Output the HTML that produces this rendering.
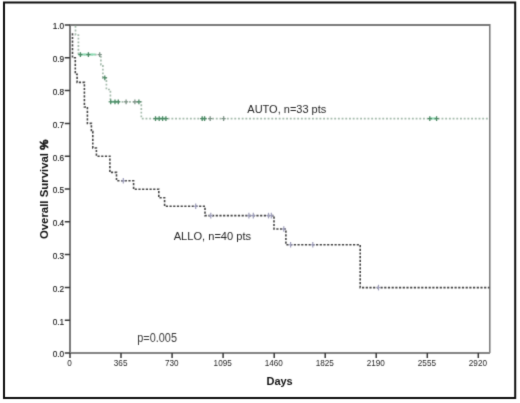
<!DOCTYPE html>
<html><head><meta charset="utf-8"><style>
html,body{margin:0;padding:0;background:#fff;width:520px;height:403px;overflow:hidden}
svg{display:block}
</style></head><body>
<svg width="520" height="403" viewBox="0 0 520 403">
<defs><filter id="soft" x="0" y="0" width="520" height="403" filterUnits="userSpaceOnUse" color-interpolation-filters="sRGB"><feConvolveMatrix order="3" kernelMatrix="0.0144 0.0912 0.0144 0.0912 0.5776 0.0912 0.0144 0.0912 0.0144" divisor="1" edgeMode="duplicate" preserveAlpha="true"/></filter></defs><g filter="url(#soft)">
<rect x="0" y="0" width="520" height="403" fill="#fff"/>
<rect x="4" y="2.5" width="511.2" height="395.5" fill="none" stroke="#0c0c0c" stroke-width="2"/>
<path d="M70,25 H489.6" fill="none" stroke="#7a7a7a" stroke-width="1.8"/>
<path d="M489.8,24.1 V353" fill="none" stroke="#6e6e6e" stroke-width="1.4"/>
<path d="M70,24.5 V353" fill="none" stroke="#747474" stroke-width="1.9"/>
<path d="M69,353 H490" fill="none" stroke="#838383" stroke-width="1.9"/>
<path d="M64.8,353.0 H70 M64.8,320.2 H70 M64.8,287.4 H70 M64.8,254.6 H70 M64.8,221.8 H70 M64.8,189.0 H70 M64.8,156.2 H70 M64.8,123.4 H70 M64.8,90.6 H70 M64.8,57.8 H70 M64.8,25.0 H70 M70.0,353 V358 M121.0,353 V358 M172.1,353 V358 M223.1,353 V358 M274.2,353 V358 M325.2,353 V358 M376.2,353 V358 M427.3,353 V358 M478.3,353 V358" stroke="#383838" stroke-width="1.5" fill="none"/>
<g font-family="Liberation Sans, Arial, sans-serif" font-size="8.9" fill="#181818" stroke="#181818" stroke-width="0.15"><text transform="translate(64.2,357.3) scale(0.93,1)" text-anchor="end">0.0</text><text transform="translate(64.2,324.5) scale(0.93,1)" text-anchor="end">0.1</text><text transform="translate(64.2,291.7) scale(0.93,1)" text-anchor="end">0.2</text><text transform="translate(64.2,258.9) scale(0.93,1)" text-anchor="end">0.3</text><text transform="translate(64.2,226.1) scale(0.93,1)" text-anchor="end">0.4</text><text transform="translate(64.2,193.3) scale(0.93,1)" text-anchor="end">0.5</text><text transform="translate(64.2,160.5) scale(0.93,1)" text-anchor="end">0.6</text><text transform="translate(64.2,127.7) scale(0.93,1)" text-anchor="end">0.7</text><text transform="translate(64.2,94.9) scale(0.93,1)" text-anchor="end">0.8</text><text transform="translate(64.2,62.1) scale(0.93,1)" text-anchor="end">0.9</text><text transform="translate(64.2,29.3) scale(0.93,1)" text-anchor="end">1.0</text><text transform="translate(69.6,366.4) scale(0.92,1)" text-anchor="middle" stroke="none" fill="#262626">0</text><text transform="translate(120.6,366.4) scale(0.92,1)" text-anchor="middle" stroke="none" fill="#262626">365</text><text transform="translate(171.7,366.4) scale(0.92,1)" text-anchor="middle" stroke="none" fill="#262626">730</text><text transform="translate(222.7,366.4) scale(0.92,1)" text-anchor="middle" stroke="none" fill="#262626">1095</text><text transform="translate(273.8,366.4) scale(0.92,1)" text-anchor="middle" stroke="none" fill="#262626">1460</text><text transform="translate(324.8,366.4) scale(0.92,1)" text-anchor="middle" stroke="none" fill="#262626">1825</text><text transform="translate(375.8,366.4) scale(0.92,1)" text-anchor="middle" stroke="none" fill="#262626">2190</text><text transform="translate(426.9,366.4) scale(0.92,1)" text-anchor="middle" stroke="none" fill="#262626">2555</text><text transform="translate(477.9,366.4) scale(0.92,1)" text-anchor="middle" stroke="none" fill="#262626">2920</text></g>
<path d="M75.5,25.8 V35 H78.4 V54.6 H100.9 V64.7 H102.9 V77.8 H106.4 V89.5 H110.4 V101.8 H141.3 V118.6 H489" fill="none" stroke="#a6bcad" stroke-width="1.7" stroke-dasharray="1.9 1.8"/>
<path d="M78.7,54.6 H95.4 M110.5,101.8 H119 M155,118.6 H166.5 M201.5,118.6 H205.5 M429,118.6 H437" stroke="#8ddcb4" stroke-width="2" fill="none"/>
<path d="M72.5,33.2 V57.8 H75.3 V74.2 H77.1 V82.4 H84.4 V107 H87.4 V123.4 H91.4 V131.6 H92.8 V148 H96.4 V156.2 H109.9 V172.4 H116.5 V180.8 H133.6 V189.3 H158.8 V197.8 H164.6 V206.3 H205 V215.6 H274 V229 H285.9 V244.8 H360.2 V287.6 H489.5" fill="none" stroke="#444" stroke-width="1.6" stroke-dasharray="2.2 1.5"/>
<path d="M80.4,52.2 V57.0" stroke="#4f8a66" stroke-width="1.3"/><path d="M78.3,54.6 H82.5" stroke="#4f8a66" stroke-width="1.2"/>
<path d="M88.4,52.2 V57.0" stroke="#4f8a66" stroke-width="1.3"/><path d="M86.3,54.6 H90.5" stroke="#4f8a66" stroke-width="1.2"/>
<path d="M99.7,52.2 V57.0" stroke="#7f9488" stroke-width="1.3"/><path d="M97.6,54.6 H101.8" stroke="#7f9488" stroke-width="1.2"/>
<path d="M104.8,75.4 V80.2" stroke="#4f8a66" stroke-width="1.3"/><path d="M102.7,77.8 H106.9" stroke="#4f8a66" stroke-width="1.2"/>
<path d="M110.7,99.4 V104.2" stroke="#4f8a66" stroke-width="1.3"/><path d="M108.6,101.8 H112.8" stroke="#4f8a66" stroke-width="1.2"/>
<path d="M115.0,99.4 V104.2" stroke="#4f8a66" stroke-width="1.3"/><path d="M112.9,101.8 H117.1" stroke="#4f8a66" stroke-width="1.2"/>
<path d="M118.3,99.4 V104.2" stroke="#4f8a66" stroke-width="1.3"/><path d="M116.2,101.8 H120.4" stroke="#4f8a66" stroke-width="1.2"/>
<path d="M126.1,99.4 V104.2" stroke="#7f9488" stroke-width="1.3"/><path d="M124.0,101.8 H128.2" stroke="#7f9488" stroke-width="1.2"/>
<path d="M134.9,99.4 V104.2" stroke="#7f9488" stroke-width="1.3"/><path d="M132.8,101.8 H137.0" stroke="#7f9488" stroke-width="1.2"/>
<path d="M138.9,99.4 V104.2" stroke="#4f8a66" stroke-width="1.3"/><path d="M136.8,101.8 H141.0" stroke="#4f8a66" stroke-width="1.2"/>
<path d="M155.5,116.2 V121.0" stroke="#4f8a66" stroke-width="1.3"/><path d="M153.4,118.6 H157.6" stroke="#4f8a66" stroke-width="1.2"/>
<path d="M159.2,116.2 V121.0" stroke="#4f8a66" stroke-width="1.3"/><path d="M157.1,118.6 H161.3" stroke="#4f8a66" stroke-width="1.2"/>
<path d="M162.6,116.2 V121.0" stroke="#4f8a66" stroke-width="1.3"/><path d="M160.5,118.6 H164.7" stroke="#4f8a66" stroke-width="1.2"/>
<path d="M165.9,116.2 V121.0" stroke="#4f8a66" stroke-width="1.3"/><path d="M163.8,118.6 H168.0" stroke="#4f8a66" stroke-width="1.2"/>
<path d="M202.2,116.2 V121.0" stroke="#4f8a66" stroke-width="1.3"/><path d="M200.1,118.6 H204.3" stroke="#4f8a66" stroke-width="1.2"/>
<path d="M204.6,116.2 V121.0" stroke="#4f8a66" stroke-width="1.3"/><path d="M202.5,118.6 H206.7" stroke="#4f8a66" stroke-width="1.2"/>
<path d="M210.2,116.2 V121.0" stroke="#7f9488" stroke-width="1.3"/><path d="M208.1,118.6 H212.3" stroke="#7f9488" stroke-width="1.2"/>
<path d="M223.6,116.2 V121.0" stroke="#7f9488" stroke-width="1.3"/><path d="M221.5,118.6 H225.7" stroke="#7f9488" stroke-width="1.2"/>
<path d="M429.8,116.2 V121.0" stroke="#4f8a66" stroke-width="1.3"/><path d="M427.7,118.6 H431.9" stroke="#4f8a66" stroke-width="1.2"/>
<path d="M436.6,116.2 V121.0" stroke="#4f8a66" stroke-width="1.3"/><path d="M434.5,118.6 H438.7" stroke="#4f8a66" stroke-width="1.2"/>
<path d="M123.3,178.0 V183.6" stroke="#9d9dbb" stroke-width="1.2"/><path d="M121.1,180.8 H125.5" stroke="#9d9dbb" stroke-width="1.0"/>
<path d="M195.7,203.5 V209.1" stroke="#9d9dbb" stroke-width="1.2"/><path d="M193.5,206.3 H197.9" stroke="#9d9dbb" stroke-width="1.0"/>
<path d="M210.8,212.8 V218.4" stroke="#9d9dbb" stroke-width="1.2"/><path d="M208.6,215.6 H213.0" stroke="#9d9dbb" stroke-width="1.0"/>
<path d="M248.9,212.8 V218.4" stroke="#9d9dbb" stroke-width="1.2"/><path d="M246.7,215.6 H251.1" stroke="#9d9dbb" stroke-width="1.0"/>
<path d="M253.3,212.8 V218.4" stroke="#9d9dbb" stroke-width="1.2"/><path d="M251.1,215.6 H255.5" stroke="#9d9dbb" stroke-width="1.0"/>
<path d="M268.5,212.8 V218.4" stroke="#9d9dbb" stroke-width="1.2"/><path d="M266.3,215.6 H270.7" stroke="#9d9dbb" stroke-width="1.0"/>
<path d="M271.3,212.8 V218.4" stroke="#9d9dbb" stroke-width="1.2"/><path d="M269.1,215.6 H273.5" stroke="#9d9dbb" stroke-width="1.0"/>
<path d="M283.8,226.2 V231.8" stroke="#9d9dbb" stroke-width="1.2"/><path d="M281.6,229.0 H286.0" stroke="#9d9dbb" stroke-width="1.0"/>
<path d="M290.6,242.0 V247.6" stroke="#9d9dbb" stroke-width="1.2"/><path d="M288.4,244.8 H292.8" stroke="#9d9dbb" stroke-width="1.0"/>
<path d="M312.8,242.0 V247.6" stroke="#9d9dbb" stroke-width="1.2"/><path d="M310.6,244.8 H315.0" stroke="#9d9dbb" stroke-width="1.0"/>
<path d="M378.5,284.8 V290.4" stroke="#9d9dbb" stroke-width="1.2"/><path d="M376.3,287.6 H380.7" stroke="#9d9dbb" stroke-width="1.0"/>
<g font-family="Liberation Sans, Arial, sans-serif" fill="#262626">
<text x="247.3" y="112.8" font-size="11">AUTO, n=33 pts</text>
<text x="173.7" y="240.2" font-size="11.1">ALLO, n=40 pts</text>
<text transform="translate(137.3,341.7) scale(0.9,1)" font-size="12.1" fill="#3a3a3a">p=0.005</text>
<text x="279.6" y="385.3" font-size="11" font-weight="bold" text-anchor="middle" fill="#111">Days</text>
<text transform="translate(48.3,189.4) rotate(-90)" font-size="11.4" font-weight="bold" text-anchor="middle" fill="#111">Overall Survival <tspan stroke="#111" stroke-width="0.6">%</tspan></text>
</g>
</g></svg>
</body></html>
